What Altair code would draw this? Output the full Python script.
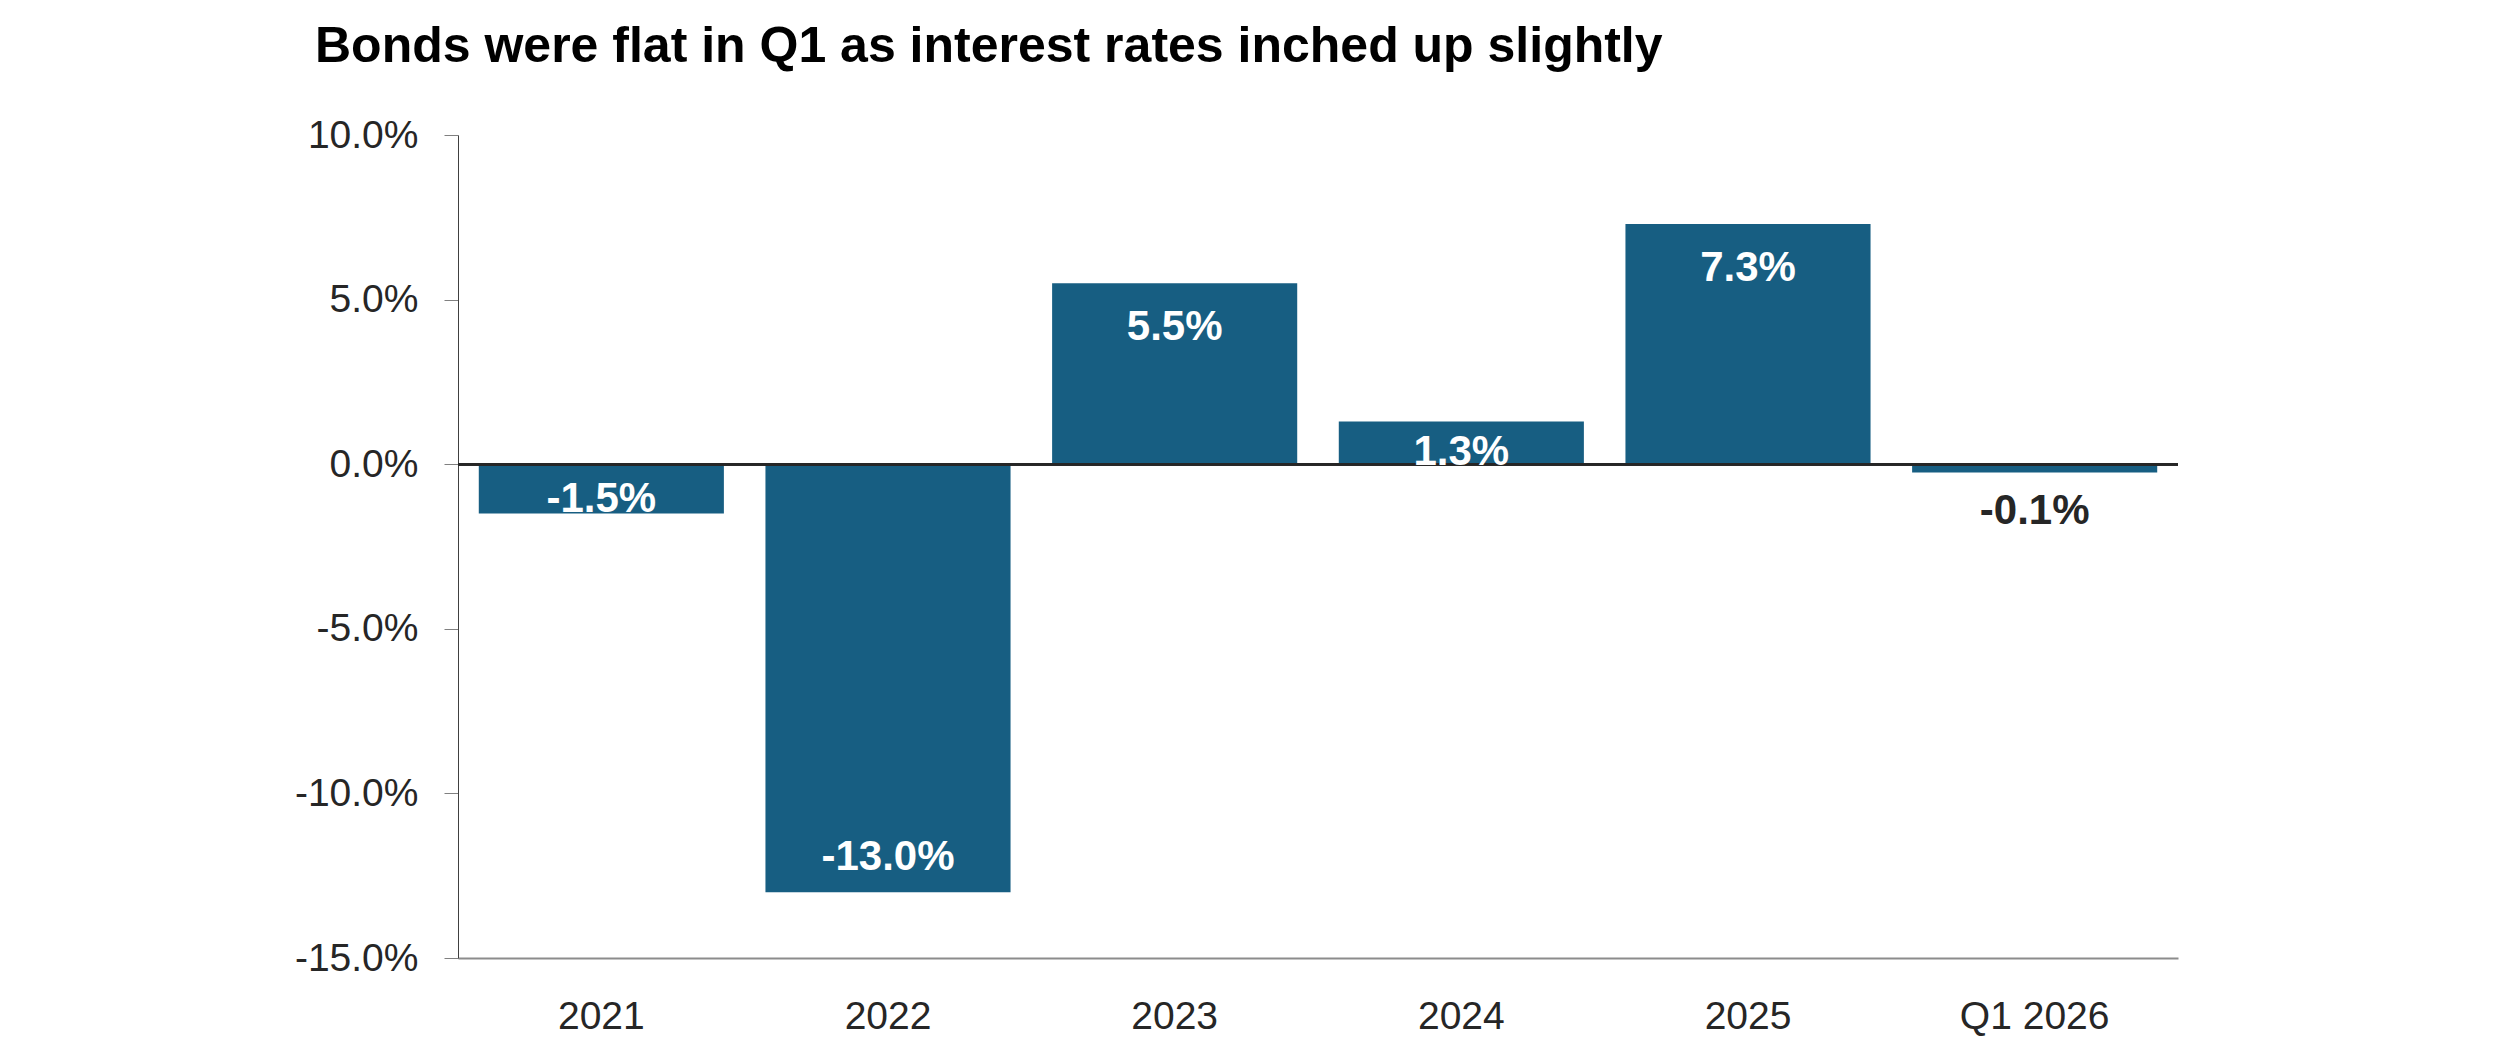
import altair as alt
import pandas as pd

categories = ["2021", "2022", "2023", "2024", "2025", "Q1 2026"]
returns = [-1.5, -13.0, 5.5, 1.3, 7.3, -0.25]
labels = ["-1.5%", "-13.0%", "5.5%", "1.3%", "7.3%", "-0.1%"]
y_ticks = [-15, -10, -5, 0, 5, 10]

df = pd.DataFrame({"cat": categories, "ret": returns, "lab": labels})

BAR = "#175E82"
TXT = "#262626"
FONT = "Liberation Sans"

x_main = alt.X(
    "cat:N", sort=categories, title=None,
    scale=alt.Scale(paddingInner=0.145, paddingOuter=0.0725),
    axis=alt.Axis(labelAngle=0, labelFont=FONT, labelFontSize=39, labelColor=TXT,
                  ticks=False, tickSize=0, domainColor="#8c8c8c", domainWidth=2,
                  labelPadding=39, labelBaseline="top", grid=False),
)
x_plain = alt.X("cat:N", sort=categories, title=None)

y_scale = alt.Scale(domain=[-15, 10], nice=False, zero=False)
y_main = alt.Y(
    "ret:Q", scale=y_scale, title=None,
    axis=alt.Axis(values=y_ticks,
                  labelExpr="(datum.value < 0 ? '-' : '') + format(abs(datum.value), '.1f') + '%'",
                  labelFont=FONT, labelFontSize=39, labelColor=TXT,
                  tickSize=14, tickColor="#808080", tickWidth=1,
                  domainColor="#404040", domainWidth=1, labelPadding=26,
                  grid=False),
)

bars = alt.Chart(df).mark_bar(color=BAR).encode(x=x_main, y=y_main, y2=alt.datum(0))

zero = alt.Chart(df).mark_rule(color=TXT, strokeWidth=2.5).encode(
    y=alt.Y(datum=0, title=None))

def label_layer(cond, y_enc, dy, color):
    return alt.Chart(df).transform_filter(cond).mark_text(
        font=FONT, fontSize=42, fontWeight="bold", baseline="alphabetic",
        align="center", dy=dy, color=color,
    ).encode(x=x_plain, y=y_enc, text="lab:N")

y_val = alt.Y("ret:Q", title=None)
y_zero = alt.Y(datum=0, title=None)

lab_pos = label_layer("datum.ret >= 2", y_val, 57, "white")
lab_pos_short = label_layer("datum.ret > 0 && datum.ret < 2", y_zero, 1, "white")
lab_neg = label_layer("datum.ret <= -2", y_val, -22, "white")
lab_neg_short = label_layer("datum.ret < -1 && datum.ret > -2", y_zero, 48, "white")
lab_out = label_layer("datum.ret < 0 && datum.ret >= -1", y_val, 52, TXT)

chart = alt.layer(
    bars, zero, lab_pos, lab_pos_short, lab_neg, lab_neg_short, lab_out
).properties(
    width=1720, height=823,
    autosize=alt.AutoSizeParams(type="none"),
    padding={"left": 450, "top": 127, "right": 300, "bottom": 80},
    background="white",
    title=alt.TitleParams(
        text="Bonds were flat in Q1 as interest rates inched up slightly",
        anchor="start", frame="group", dx=-143, font=FONT, fontSize=50,
        fontWeight="bold", color="#000000", baseline="alphabetic", offset=4,
    ),
).configure_view(stroke=None)

chart.save("out.html", embed_options={"renderer": "svg", "actions": False})
